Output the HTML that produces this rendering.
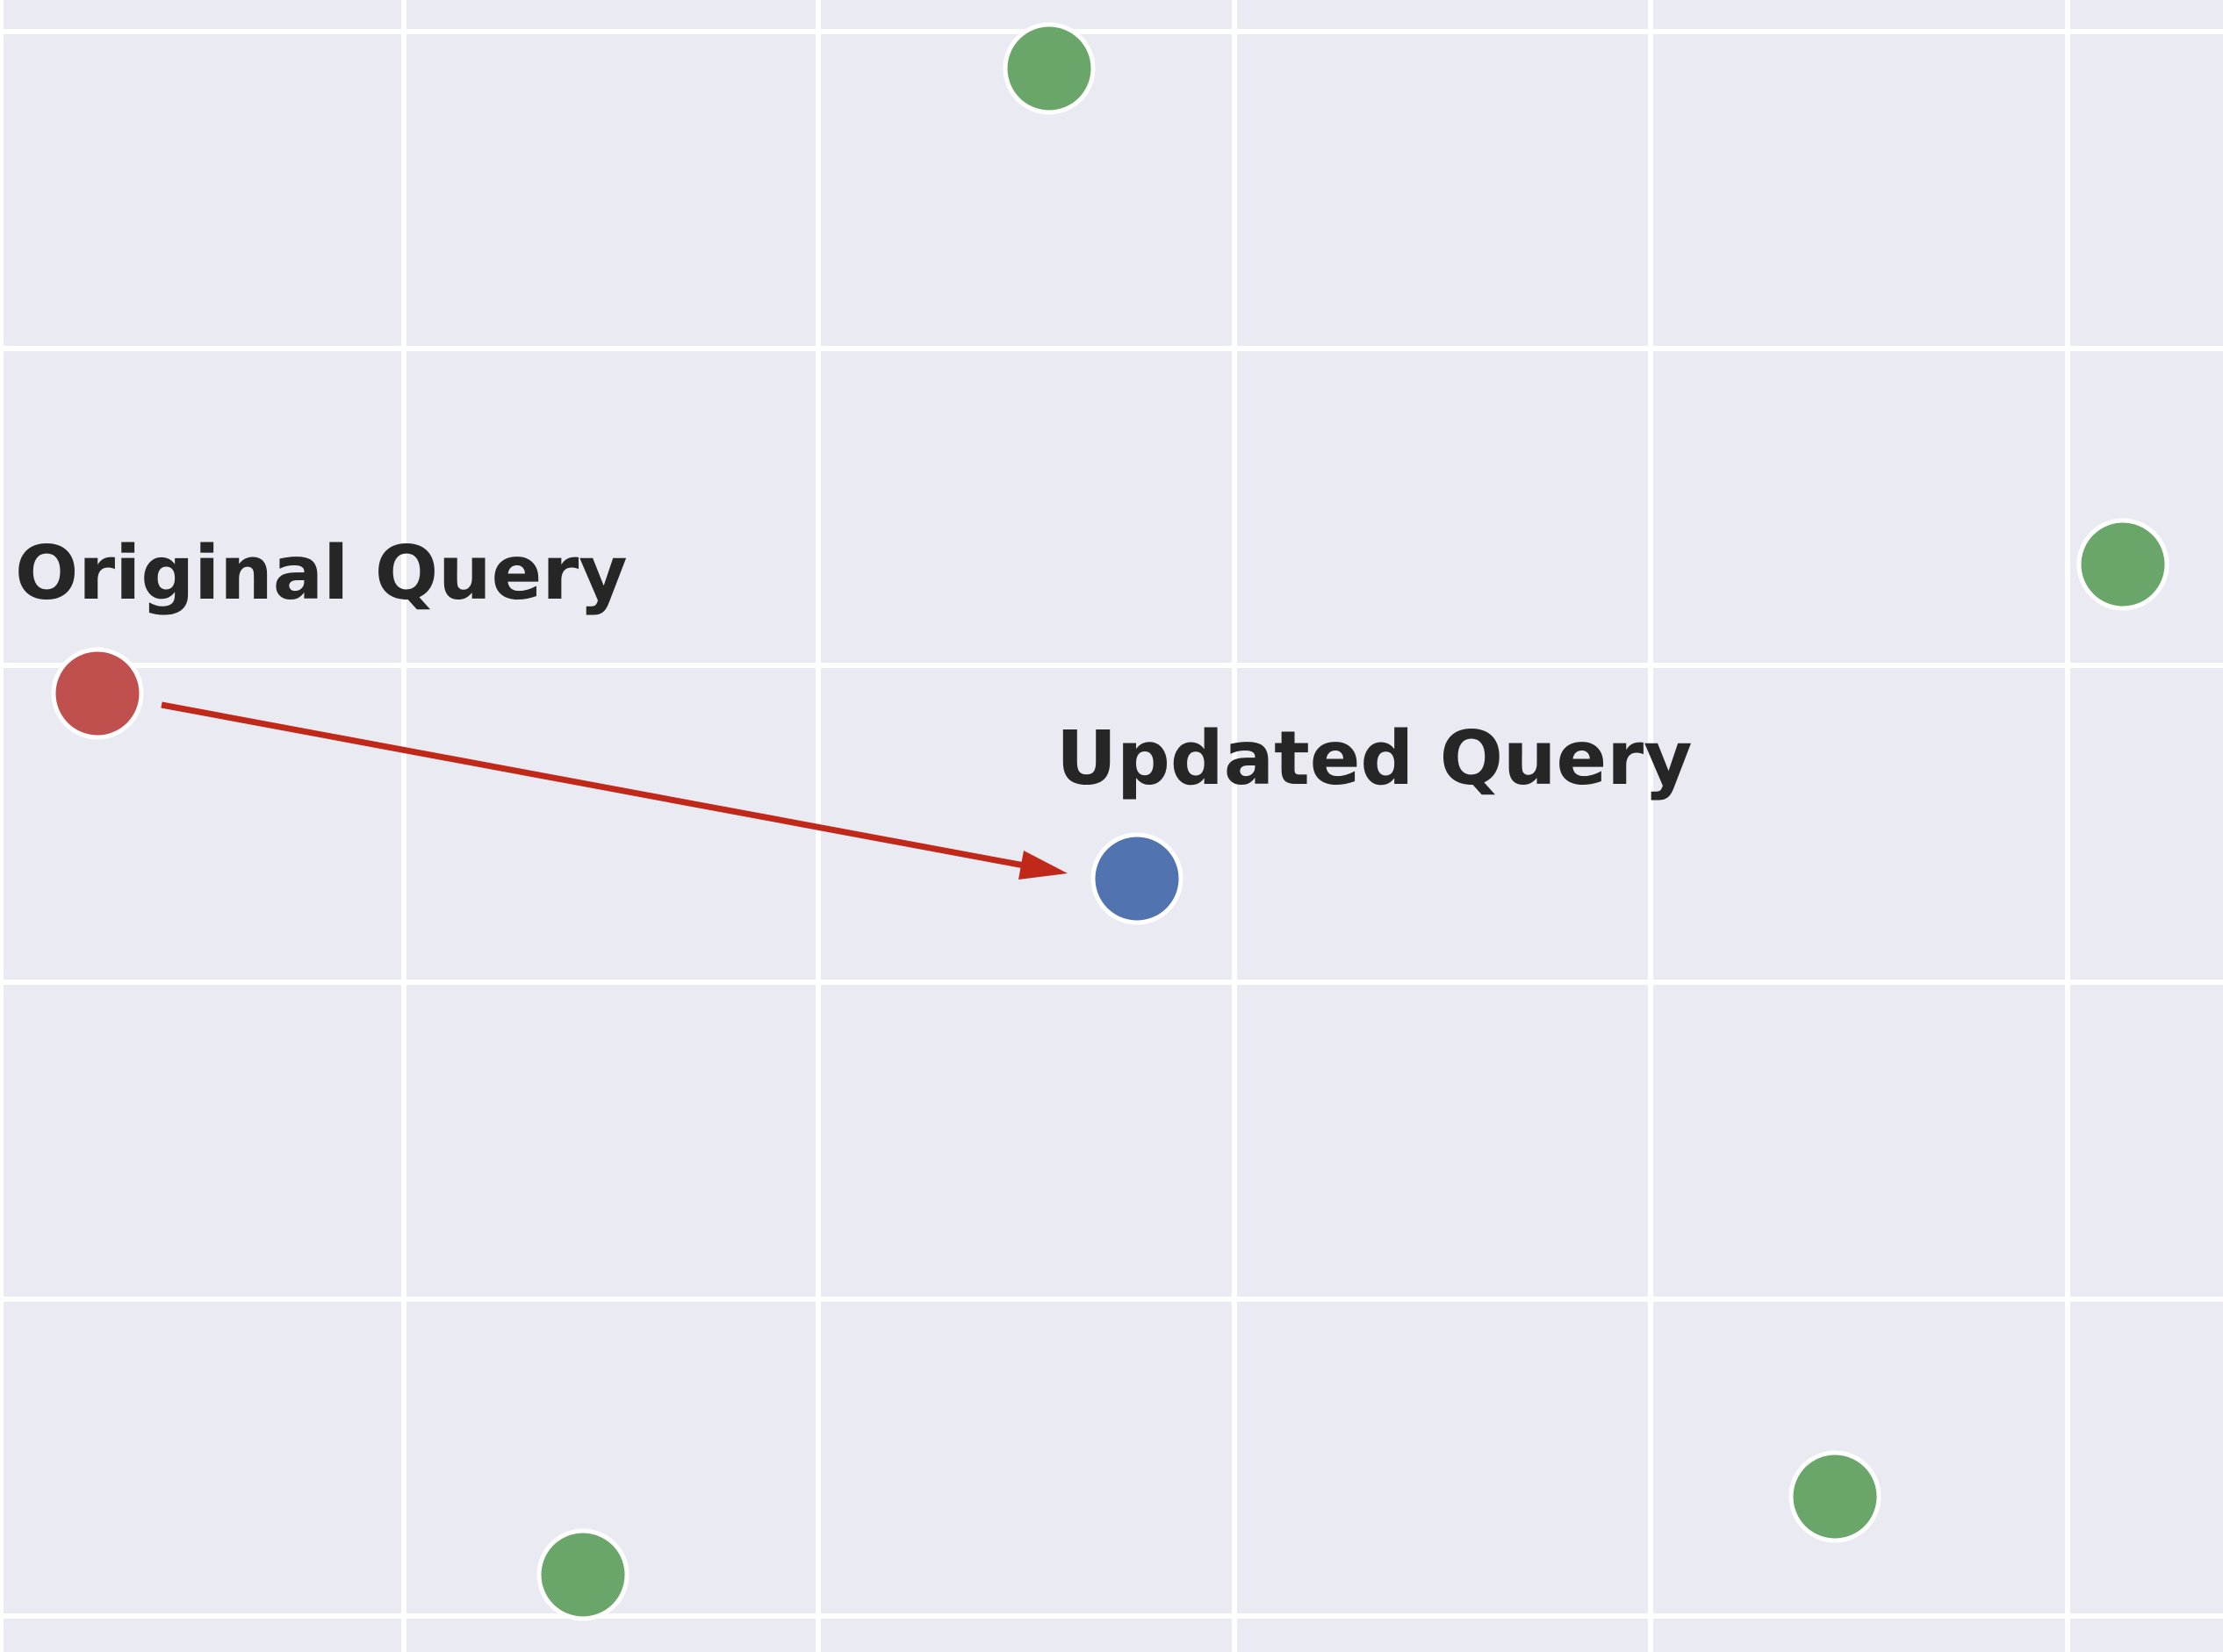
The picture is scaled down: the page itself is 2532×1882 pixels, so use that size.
<!DOCTYPE html>
<html><head><meta charset="utf-8"><style>html,body{margin:0;padding:0;background:#eaeaf2}svg{display:block}</style></head>
<body>
<svg width="2532" height="1882" viewBox="0 0 2532 1882" xmlns="http://www.w3.org/2000/svg">
<rect width="2532" height="1882" fill="#eaeaf2"/>
<g stroke="#ffffff" stroke-width="6">
<line x1="1" y1="0" x2="1" y2="1882"/>
<line x1="460" y1="0" x2="460" y2="1882"/>
<line x1="932" y1="0" x2="932" y2="1882"/>
<line x1="1406" y1="0" x2="1406" y2="1882"/>
<line x1="1880" y1="0" x2="1880" y2="1882"/>
<line x1="2355" y1="0" x2="2355" y2="1882"/>
<line x1="0" y1="36" x2="2532" y2="36"/>
<line x1="0" y1="397" x2="2532" y2="397"/>
<line x1="0" y1="758" x2="2532" y2="758"/>
<line x1="0" y1="1119" x2="2532" y2="1119"/>
<line x1="0" y1="1480" x2="2532" y2="1480"/>
<line x1="0" y1="1841" x2="2532" y2="1841"/>
</g>
<g stroke="#ffffff" stroke-width="5">
<circle cx="1195" cy="78" r="50" fill="#6aa56a"/>
<circle cx="2418" cy="643" r="50" fill="#6aa56a"/>
<circle cx="2090" cy="1705" r="50" fill="#6aa56a"/>
<circle cx="664" cy="1794" r="50" fill="#6aa56a"/>
<circle cx="111" cy="790" r="50" fill="#c0504e"/>
<circle cx="1295" cy="1001" r="50" fill="#5173b0"/>
</g>
<line x1="184" y1="803" x2="1172" y2="987" stroke="#c0291a" stroke-width="7"/>
<polygon points="1216,995 1166,969 1160,1002" fill="#c0291a"/>
<g font-family="DejaVu Sans, Liberation Sans, sans-serif" font-weight="bold" font-size="85" fill="#262626">
<text x="17" y="682">Original Query</text>
<text x="1203" y="893">Updated Query</text>
</g>
</svg>
</body></html>
